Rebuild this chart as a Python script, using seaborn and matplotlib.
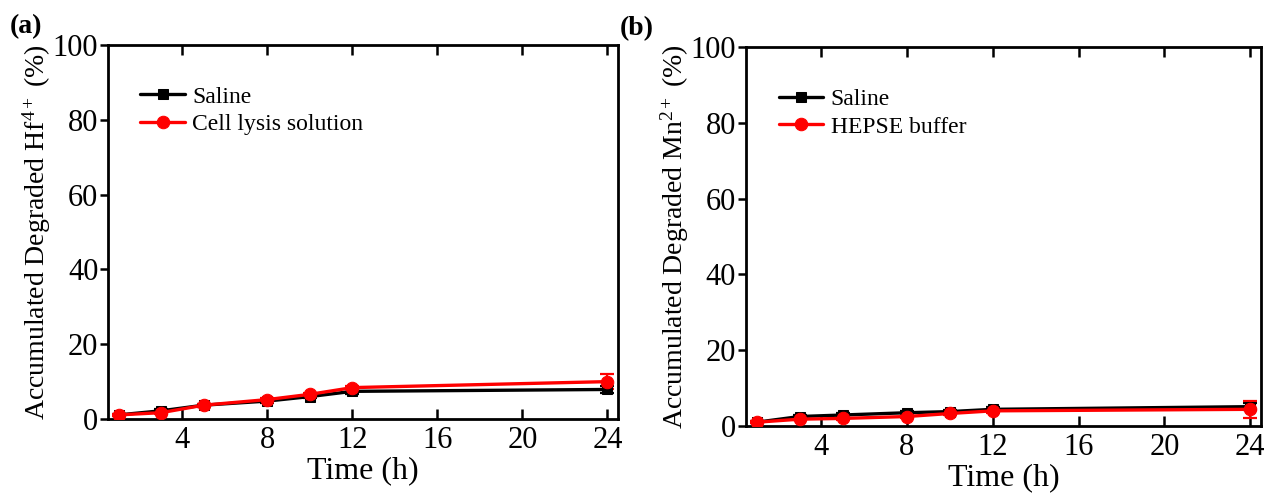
import matplotlib
matplotlib.use("Agg")
import matplotlib.pyplot as plt
import seaborn as sns
import pandas as pd

# Sampling times (h)
time_h = [1, 3, 5, 8, 10, 12, 24]

# Panel (a): accumulated Hf4+ release (%)
hf_saline = [1.1, 2.2, 3.7, 4.8, 6.0, 7.4, 7.9]
hf_saline_err = [0.3, 0.5, 0.4, 0.5, 0.5, 0.6, 0.9]
hf_lysis = [1.1, 1.7, 3.7, 5.2, 6.6, 8.4, 10.0]
hf_lysis_err = [0.3, 0.3, 0.4, 0.4, 0.4, 0.5, 2.0]

# Panel (b): accumulated Mn2+ release (%)
mn_saline = [1.0, 2.5, 2.9, 3.5, 3.8, 4.4, 5.1]
mn_saline_err = [0.2, 0.4, 0.5, 0.5, 0.5, 0.5, 1.0]
mn_hepse = [1.0, 1.8, 2.0, 2.5, 3.3, 4.0, 4.4]
mn_hepse_err = [0.2, 0.3, 0.3, 0.4, 0.4, 0.5, 2.3]

x_ticks = [4, 8, 12, 16, 20, 24]
y_ticks = [0, 20, 40, 60, 80, 100]

sns.set_theme(style="ticks")
plt.rcParams["font.family"] = ["Liberation Serif", "DejaVu Serif"]
plt.rcParams["mathtext.fontset"] = "custom"
plt.rcParams["mathtext.rm"] = "Liberation Serif"
plt.rcParams["mathtext.it"] = "Liberation Serif:italic"
plt.rcParams["mathtext.bf"] = "Liberation Serif:bold"
for key in ("text.color", "axes.labelcolor", "xtick.color", "ytick.color",
            "xtick.labelcolor", "ytick.labelcolor", "axes.edgecolor"):
    plt.rcParams[key] = "black"

fig = plt.figure(figsize=(12.68, 4.95), dpi=100)
ax_a = fig.add_axes([0.0852, 0.1535, 0.4022, 0.7556])
ax_b = fig.add_axes([0.5883, 0.1394, 0.4062, 0.7657])


def draw_panel(ax, series, ylabel, letter, letter_x):
    for name, vals, errs, color, marker, msize in series:
        df = pd.DataFrame({"Time": time_h, "Value": vals})
        ax.errorbar(time_h, vals, yerr=errs, fmt="none", ecolor=color,
                    elinewidth=1.6, capsize=5, capthick=1.6, zorder=2)
        sns.lineplot(data=df, x="Time", y="Value", ax=ax, color=color,
                     linewidth=2.4, marker=marker, markersize=msize,
                     markeredgecolor=color, markerfacecolor=color,
                     label=name, zorder=3)
    ax.set_xlim(0.5, 24.5)
    ax.set_ylim(0, 100)
    ax.set_xticks(x_ticks)
    ax.set_yticks(y_ticks)
    ax.set_xlabel("Time (h)", fontsize=23, labelpad=1)
    ax.set_ylabel(ylabel, fontsize=20, labelpad=0)
    ax.tick_params(axis="x", direction="in", length=7, width=1.8,
                   labelsize=22, pad=5, top=True)
    ax.tick_params(axis="y", direction="out", length=6, width=1.8,
                   labelsize=22, pad=1)
    for sp in ax.spines.values():
        sp.set_linewidth(2.0)
        sp.set_color("black")
        sp.set_visible(True)
    ax.legend(loc="upper left", bbox_to_anchor=(0.045, 0.915),
              frameon=False, fontsize=17, handlelength=1.9,
              handletextpad=0.3, labelspacing=0.25, borderaxespad=0)
    ax.text(letter_x, 1.048, letter, transform=ax.transAxes, fontsize=20,
            fontweight="bold", ha="left", va="center")


draw_panel(
    ax_a,
    [("Saline", hf_saline, hf_saline_err, "black", "s", 7),
     ("Cell lysis solution", hf_lysis, hf_lysis_err, "#ff0000", "o", 9)],
    r"Accumulated Degraded Hf$^{\mathrm{4+}}$ (%)",
    "(a)", -0.192,
)
draw_panel(
    ax_b,
    [("Saline", mn_saline, mn_saline_err, "black", "s", 7),
     ("HEPSE buffer", mn_hepse, mn_hepse_err, "#ff0000", "o", 9)],
    r"Accumulated Degraded Mn$^{\mathrm{2+}}$ (%)",
    "(b)", -0.245,
)

fig.savefig("out.png", dpi=100)
